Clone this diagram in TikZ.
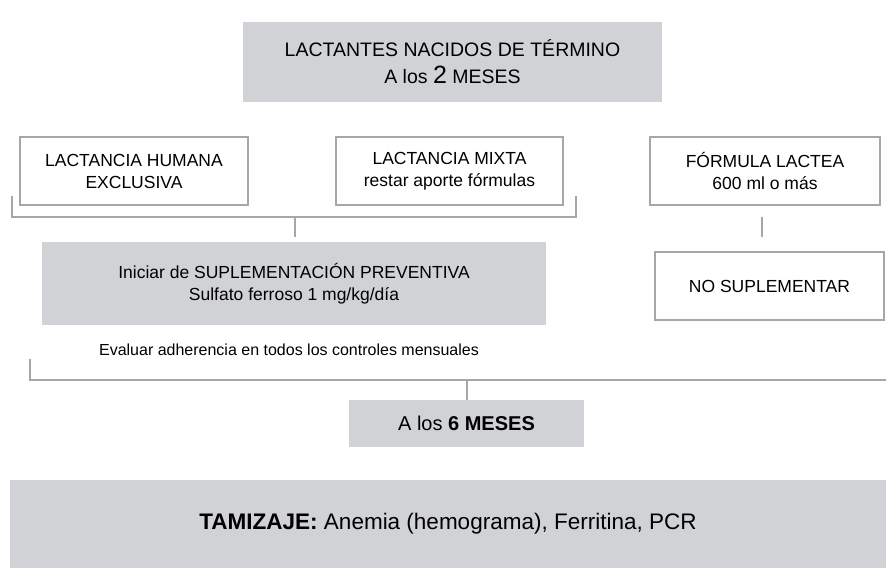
\documentclass[tikz,border=0pt]{standalone}
\usepackage{fontspec}
\setmainfont{Liberation Sans}
\usepackage{tikz}
\usepackage{xcolor}
\usetikzlibrary{positioning}
\definecolor{cajagris}{HTML}{D0D2D5}
\definecolor{linea}{HTML}{A7A7A7}
\tikzset{
  gris/.style={fill=cajagris, draw=none, align=center, inner sep=0pt},
  blanca/.style={fill=white, draw=linea, line width=1.5pt, align=center, inner sep=0pt},
  conector/.style={draw=linea, line width=2pt}
}

\begin{document}
\begin{tikzpicture}[x=1pt, y=-1pt]
     \useasboundingbox (0,0) rectangle (886,569);
     \node[gris, minimum width=419pt, minimum height=80pt, font=\fontsize{19.5}{27}\selectfont] (inicio) at (452.5,62)
     {LACTANTES NACIDOS DE TÉRMINO\\A los {\fontsize{25}{25}\selectfont 2} MESES};
     % fila de tipos de lactancia
     \node[blanca, minimum width=228pt, minimum height=68pt, font=\fontsize{17.5}{22}\selectfont] (humana) at (134,171)
     {LACTANCIA HUMANA\\EXCLUSIVA};
     \node[blanca, minimum width=227pt, minimum height=68pt, font=\fontsize{17.5}{22}\selectfont] (mixta) at (449.5,171)
     {LACTANCIA MIXTA\\restar aporte fórmulas};
     \node[blanca, minimum width=230pt, minimum height=68pt, font=\fontsize{17.5}{22}\selectfont] (formula) at (765,171)
     {FÓRMULA LACTEA\\600 ml o más};
     \node[gris, minimum width=504pt, minimum height=83pt, font=\fontsize{17.5}{22}\selectfont] (suple) at (294,283.5)
     {Iniciar de SUPLEMENTACIÓN PREVENTIVA\\Sulfato ferroso 1 mg/kg/día};
     \node[blanca, minimum width=229pt, minimum height=68pt, font=\fontsize{17.5}{22}\selectfont] (nosuple) at (769.5,286)
     {NO SUPLEMENTAR};
     \node[font=\fontsize{16}{18}\selectfont, inner sep=0pt] (evaluar) at (289,350)
     {Evaluar adherencia en todos los controles mensuales};
     \node[gris, minimum width=235pt, minimum height=47pt, font=\fontsize{20}{24}\selectfont] (seis) at (466.5,423.5)
     {A los \textbf{6 MESES}};
     \node[gris, minimum width=876pt, minimum height=88pt, font=\fontsize{22.5}{26}\selectfont] (tamizaje) at (448,524)
     {\textbf{TAMIZAJE:} Anemia (hemograma), Ferritina, PCR};
     % llaves de union
     \coordinate (b1) at (12,196);
     \coordinate (b2) at (12,217);
     \coordinate (b3) at (576,217);
     \coordinate (b4) at (576,196);
     \coordinate (b5) at (295,217);
     \coordinate (b6) at (295,237);
     \draw[conector] (b1) -- (b2) -- (b3) -- (b4);
     \draw[conector] (b5) -- (b6);
     \coordinate (f1) at (762,217);
     \coordinate (f2) at (762,237);
     \draw[conector] (f1) -- (f2);
     \coordinate (c1) at (30,359);
     \coordinate (c2) at (30,380);
     \coordinate (c3) at (886,380);
     \coordinate (c4) at (466.5,380);
     \draw[conector] (c1) -- (c2) -- (c3);
     \draw[conector] (c4) -- (seis.north);
   \end{tikzpicture}
\end{document}
